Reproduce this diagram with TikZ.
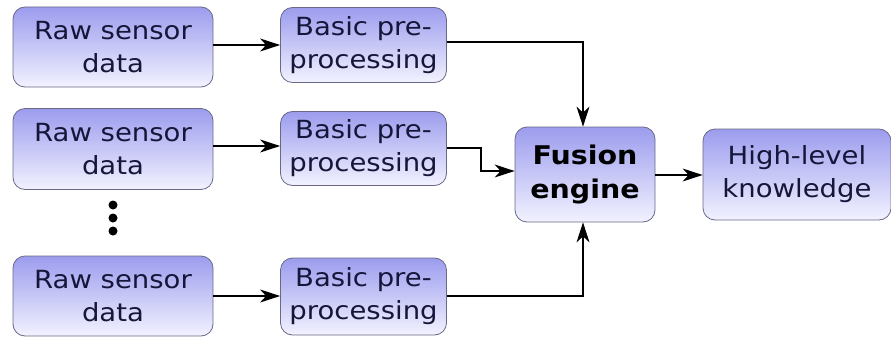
\documentclass[tikz,border=0pt]{standalone}
\usepackage{fontspec}
\setmainfont{DejaVu Sans}
\usetikzlibrary{arrows.meta}
\definecolor{boxtop}{RGB}{156,156,238}
\definecolor{boxbot}{RGB}{242,242,255}
\definecolor{boxline}{RGB}{105,105,135}
\definecolor{txt}{RGB}{22,22,58}
\newcommand{\wide}[1]{\scalebox{1.1}[1]{#1}}
\newcommand{\widef}[1]{\scalebox{1.14}[1.03]{#1}}
\tikzset{
  box/.style={draw=boxline, line width=0.8pt, rounded corners=12pt, top color=boxtop, bottom color=boxbot,
    text=txt, align=center, inner sep=0pt, font=\fontsize{25}{33}\selectfont},
  conn/.style={draw=black, line width=1.2pt, -{Stealth[length=20pt,width=13pt,inset=6pt]}},
}
\begin{document}
\begin{tikzpicture}[x=1pt,y=-1pt]
\useasboundingbox (0,0) rectangle (891,337);
% raw sensor boxes
\node[box, minimum width=200pt, minimum height=80pt] (r1) at (113,47) {\wide{Raw sensor}\\\wide{data}};
\node[box, minimum width=200pt, minimum height=81pt] (r2) at (113,149) {\wide{Raw sensor}\\\wide{data}};
\node[box, minimum width=200pt, minimum height=80pt] (r3) at (113,296) {\wide{Raw sensor}\\\wide{data}};
% pre-processing boxes
\node[box, minimum width=166pt, minimum height=75pt] (p1) at (363.5,45) {\wide{Basic pre-}\\\wide{processing}};
\node[box, minimum width=166pt, minimum height=74pt] (p2) at (363.5,148.5) {\wide{Basic pre-}\\\wide{processing}};
\node[box, minimum width=166pt, minimum height=77pt] (p3) at (363.5,296.5) {\wide{Basic pre-}\\\wide{processing}};
% fusion
\node[box, minimum width=140pt, minimum height=95pt, text=black, font=\fontsize{25}{34}\selectfont\bfseries] (f) at (585,174.5) {\widef{Fusion}\\\widef{engine}};
% high-level
\node[box, minimum width=188pt, minimum height=91pt] (h) at (797,174.5) {\wide{High-level}\\\wide{knowledge}};
% dots
\fill (113,205) circle (4.5pt);
\fill (113,218) circle (4.5pt);
\fill (113,231) circle (4.5pt);
% connectors
\draw[conn] (r1.east |- 0,45) -- (p1.west |- 0,45);
\draw[conn] (r2.east |- 0,146) -- (p2.west |- 0,146);
\draw[conn] (r3.east |- 0,296) -- (p3.west |- 0,296);
\draw[conn] (p1.east |- 0,42) -| (f.north -| 583,0);
\draw[conn] (p2.east |- 0,148) -- (481,148) |- (f.west |- 0,171);
\draw[conn] (p3.east |- 0,296) -| (f.south -| 583,0);
\draw[conn] (f.east |- 0,175) -- (h.west |- 0,175);
\end{tikzpicture}
\end{document}
